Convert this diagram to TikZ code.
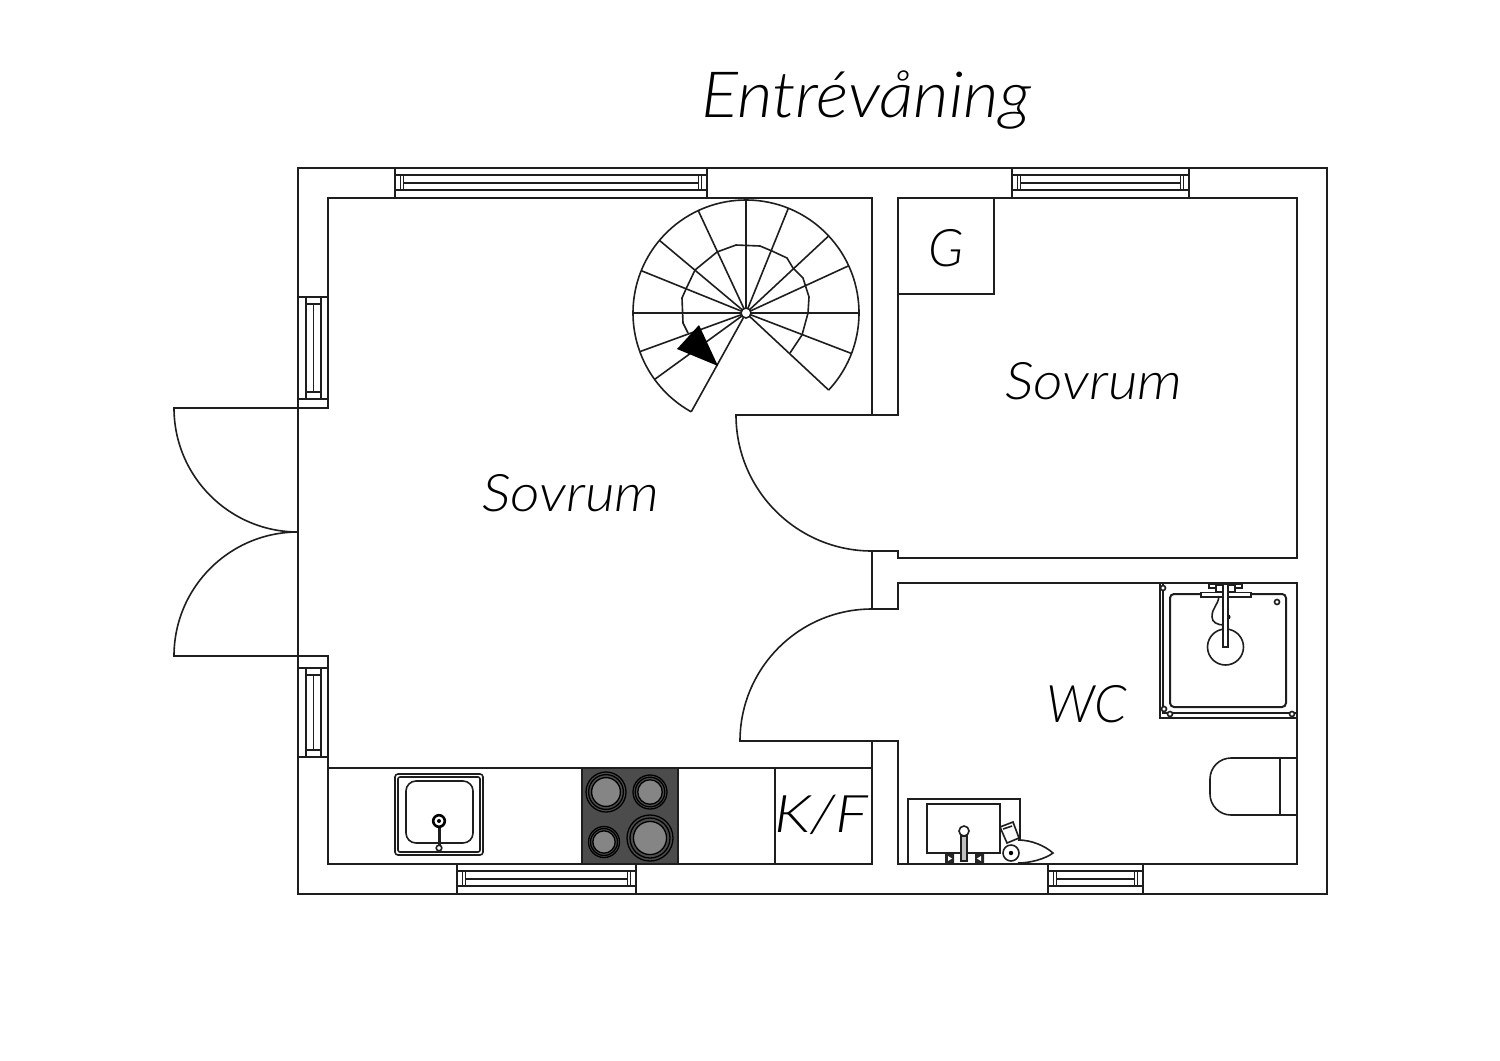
\documentclass[tikz,border=0pt]{standalone}
\usepackage{fontspec}
\setmainfont{Lato Light}[ItalicFont={Lato Light Italic}]
\definecolor{ink}{HTML}{1E1E1E}
\tikzset{
  plan/.style={draw=ink,line width=2bp,line join=miter},
  fine/.style={draw=ink,line width=1.6bp},
  room/.style={font=\itshape\fontsize{52}{60}\selectfont,text=black,inner sep=0pt},
  winbar/.style={draw=ink,line width=1.6bp},
}
\newcommand{\hwin}[3]{% x1,x2,y top
  \draw[winbar] (#1,#3) -- (#1,#3+30) (#2,#3) -- (#2,#3+30);
  \draw[winbar] (#1,#3+7) -- (#2,#3+7) (#1,#3+22) -- (#2,#3+22);
  \draw[winbar] (#1+5.5,#3+7) -- (#1+5.5,#3+22) (#2-5.5,#3+7) -- (#2-5.5,#3+22);
  \draw[winbar] (#1+8.5,#3+7) -- (#1+8.5,#3+22) (#2-8.5,#3+7) -- (#2-8.5,#3+22);
  \draw[winbar] (#1+8.5,#3+15) -- (#2-8.5,#3+15);
}
\newcommand{\vwin}[2]{% y1,y2 of the inner frame
  \draw[winbar] (298,#1) -- (328,#1) (298,#2) -- (328,#2);
  \draw[winbar] (306,#1) -- (306,#2) (321,#1) -- (321,#2);
  \draw[winbar] (306,#1+7) -- (321,#1+7) (306,#2-7) -- (321,#2-7);
  \draw[winbar] (313.5,#1+7) -- (313.5,#2-7);
}
\begin{document}
\begin{tikzpicture}[x=1bp,y=-1bp]
\useasboundingbox[fill=white] (0,0) rectangle (1500,1060);
% outer wall
\draw[plan] (298,168) rectangle (1327,894);
% inner outline
\draw[plan] (298,408) -- (328,408) -- (328,198) -- (872,198) -- (872,415) -- (898,415) -- (898,198) -- (1297,198) -- (1297,558) -- (898,558) -- (898,551) -- (872,551) -- (872,609) -- (898,609) -- (898,583) -- (1297,583) -- (1297,864) -- (898,864) -- (898,741) -- (872,741) -- (872,864) -- (328,864) -- (328,656) -- (298,656);
% windows
\hwin{395}{707}{168}
\hwin{1012}{1189}{168}
\hwin{457}{636}{864}
\hwin{1048}{1143}{864}
\vwin{297}{399}
\vwin{668}{757}
% doors
\coordinate (dA) at (298,408);
\coordinate (dB) at (298,656);
\coordinate (dC) at (872,415);
\coordinate (dD) at (872,741);
\draw[fine] (dA) -- (174,408) arc[start angle=180,end angle=270,radius=124bp];
\draw[fine] (dB) -- (174,656) arc[start angle=180,end angle=90,radius=124bp];
\draw[fine] (dC) -- (736,415) arc[start angle=180,end angle=270,radius=136bp];
\draw[fine] (dD) -- (740,741) arc[start angle=180,end angle=90,radius=132bp];
% G box
\draw[fine] (898,294) -- (994,294) -- (994,198);
% kitchen counter
\draw[fine] (328,768) -- (872,768);
\draw[fine] (775,768) -- (775,864);
% hob
\draw[fine,fill=black!70] (582,768) rectangle (678,864);
\foreach \x/\y/\r in {606/792/20,650/792/17,604/842/15.5,650/838/23}{
  \draw[draw=black,line width=1.3bp,fill=black!70] (\x,\y) circle[radius=\r*1bp];
  \draw[draw=black,line width=1.3bp,fill=black!70] (\x,\y) circle[radius=\r*0.87bp];
  \draw[draw=black,line width=1.3bp,fill=black!48] (\x,\y) circle[radius=\r*0.72bp];
}
% kitchen sink
\draw[fine,rounded corners=3bp] (395,774) rectangle (483,855);
\draw[fine,rounded corners=2bp] (398,777) rectangle (480,852);
\draw[fine,rounded corners=10bp] (406,781) rectangle (473,843);
\draw[draw=ink,line width=3bp] (439,821) -- (439,845);
\draw[draw=black,line width=2.6bp,fill=white] (439,821) circle[radius=5.8bp];
\fill[black] (439,821) circle[radius=2bp];
\draw[fine,fill=white] (439,848) circle[radius=2.8bp];
% stair
\coordinate (stair) at (746,313);
\foreach \a in {90,68,43,24.7,0,-21,-43,115,140,158,180,200,216,241}{
  \draw[fine] (stair) -- ++(\a:113bp);
}
\draw[fine] (stair) ++(-43:113bp) arc[start angle=-43,end angle=241,radius=113bp];
\draw[fine] (790,353) -- (802,335) -- (808,313) -- (809,297) -- (803,278) -- (793,268) -- (787,258) -- (772,251) -- (760,246) -- (736,245) -- (717,252) -- (695,270) -- (686,289) -- (682,298) -- (683,323) -- (688,333);
\fill[black] (699,325) -- (677,349) -- (718,366) -- cycle;
\draw[fine,fill=white] (stair) circle[radius=5bp];
% shower
\draw[fine] (1160,583) -- (1160,718) -- (1297,718);
\draw[fine] (1163,583) -- (1163,713) -- (1297,713);
\draw[plan,rounded corners=4bp] (1170,594) rectangle (1286,707);
\draw[fine] (1225.5,647) circle[radius=18bp];
\draw[fine] (1277,602) circle[radius=2.5bp];
\draw[fine,fill=white] (1163,588) circle[radius=2.5bp];
\draw[fine,fill=white] (1164,709) circle[radius=2.5bp];
\draw[fine,fill=white] (1170,714) circle[radius=2.5bp];
\draw[fine,fill=white] (1292,714) circle[radius=2.5bp];
\draw[fine] (1209,584) rectangle (1216,588) (1235,584) rectangle (1242,588);
\draw[fine,fill=white] (1216,585) rectangle (1235,592);
\draw[fine,fill=white] (1201,592.5) rectangle (1251,597);
\draw[fine] (1219,596) .. controls (1218,606) and (1212,607) .. (1212,617) .. controls (1212,622) and (1217,625) .. (1224,625);
\fill[black] (1228,617) circle[radius=2.5bp];
\draw[fine,fill=white] (1223,584) rectangle (1228,647);
% toilet
\draw[fine] (1297,758) -- (1231,758) arc[start angle=90,end angle=180,radius=21bp] -- (1210,794) arc[start angle=180,end angle=270,radius=21bp] -- (1297,815);
\draw[plan] (1280,758) -- (1280,815);
% wash basin
\draw[fine] (908,864) -- (908,799) -- (1020,799) -- (1020,864);
\draw[fine,fill=white] (927,804) rectangle (1000,853);
\fill[black!85] (945,854) rectangle (954,863) (975,854) rectangle (984,863);
\fill[white] (948,856) -- (952,858.5) -- (948,861) -- cycle (981,856) -- (977,858.5) -- (981,861) -- cycle;
\draw[fine,fill=black!25] (961,836) rectangle (967,861);
\draw[fine,fill=white] (964,831) circle[radius=5bp];
\draw[fine,fill=white] (1000,827) -- (1013,822) -- (1019,838) -- (1007,843) -- cycle;
\draw[fine] (1003,829) -- (1012,826);
\draw[fine,fill=white] (1018,840) .. controls (1032,840) and (1045,846) .. (1053,853) .. controls (1045,859) and (1030,863) .. (1018,863);
\draw[fine,fill=white] (1011,853) circle[radius=8bp];
\fill[black] (1011,853) circle[radius=2.2bp];
% labels
\node[room,font=\itshape\fontsize{64}{72}\selectfont] (title) at (866,100) {\scalebox{1.08}[1]{Entrévåning}};
\node[room] (s1) at (571,493) {\scalebox{1.11}[1]{Sovrum}};
\node[room] (s2) at (1094,381) {\scalebox{1.11}[1]{Sovrum}};
\node[room] (g) at (946,248) {G};
\node[room] (wc) at (1087,704) {WC};
\node[room] (kf) at (821,815) {\scalebox{1.19}[1]{K/F}};
\end{tikzpicture}
\end{document}
